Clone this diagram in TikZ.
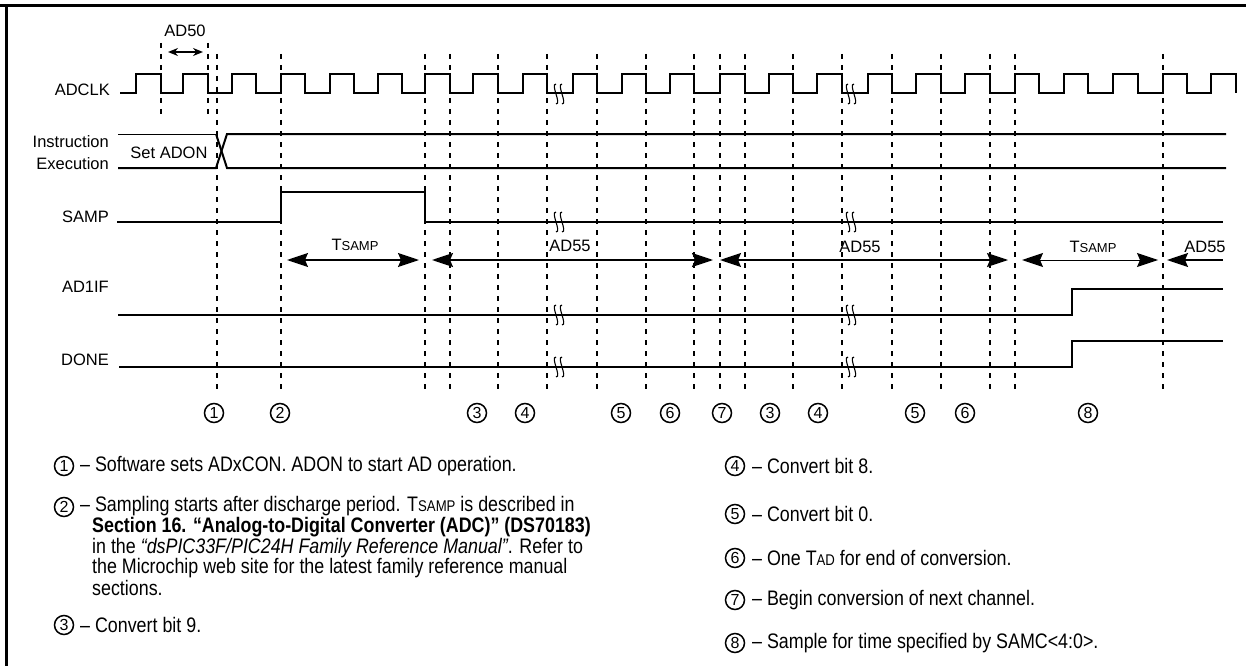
\documentclass[tikz,border=0pt]{standalone}
\usepackage{fontspec}
\setmainfont{Liberation Sans}
\newfontfamily\narrowfont[FakeStretch=0.85]{Liberation Sans}
\usetikzlibrary{arrows.meta}
\tikzset{
  wave/.style={line width=2pt, line join=miter},
  guide/.style={line width=1.5pt, dash pattern=on 5pt off 6pt},
  lbl/.style={font=\fontsize{16.5}{20}\selectfont, inner sep=0pt},
  sig/.style={lbl, anchor=east},
  bigarrow/.style={line width=1.6pt, {Stealth[length=21pt,width=14pt,inset=3pt]}-{Stealth[length=21pt,width=14pt,inset=3pt]}},
  cnum/.style={circle, draw, line width=1.5pt, minimum size=19pt, inner sep=0pt, font=\fontsize{16}{16}\selectfont},
  note/.style={anchor=west, inner sep=0pt, font=\narrowfont\fontsize{21}{23}\selectfont},
  brk/.pic={\draw[line width=1.1pt] (0,-10) .. controls (-6,-10) and (6,10) .. (0,10);
            \draw[line width=1.1pt] (6,-10) .. controls (0,-10) and (12,10) .. (6,10);}
}
\begin{document}
\begin{tikzpicture}[x=1pt,y=-1pt]
\useasboundingbox (0,0) rectangle (1246,666);
% frame
\draw[line width=3pt] (0,6) -- (1246,6);
\draw[line width=3pt] (6,6) -- (6,666);

% signal labels
\node[sig] (lclk) at (110,90) {ADCLK};
\node[sig] (linst) at (109,142) {Instruction};
\node[sig] (lexec) at (109,164) {Execution};
\node[sig] (lsamp) at (109,217) {SAMP};
\node[sig] (lif) at (109,287) {AD1IF};
\node[sig] (ldone) at (109,360) {DONE};

% guide lines
\foreach \x in {161,208} \draw[guide] (\x,43) -- (\x,117);
\foreach \x in {217,281,425,450,498,547,597,646,694,720,745,793,842,892,941,990,1015,1163}
  \draw[guide] (\x,54) -- (\x,392);

% clock
\draw[wave] (120,93) -| (136,74) -| (161,93) -| (183,74) -| (208,93) -| (232,74) -| (256,93)
  -| (281,74) -| (305,93) -| (330,74) -| (354,93) -| (378,74) -| (402,93) -| (425,74) -| (450,93)
  -| (473,74) -| (498,93) -| (523,74) -| (547,93) -| (573,74) -| (597,93) -| (622,74) -| (646,93)
  -| (670,74) -| (694,93) -| (720,74) -| (745,93) -| (769,74) -| (793,93) -| (817,74) -| (842,93)
  -| (868,74) -| (892,93) -| (916,74) -| (941,93) -| (965,74) -| (990,93) -| (1015,74) -| (1039,93)
  -| (1064,74) -| (1088,93) -| (1113,74) -| (1138,93) -| (1163,74) -| (1187,93) -| (1211,74) -| (1236,93);

% instruction execution
\draw[line width=1pt] (118,134) -- (216,134);
\draw[wave] (216,134) -- (227,168) -- (1226,168);
\draw[wave] (118,168) -- (216,168) -- (227,134) -- (1226,134);
\node[lbl] (setadon) at (169,153) {Set ADON};

% SAMP, AD1IF, DONE
\draw[wave] (117,222) -| (281,192) -| (425,222) -- (1223,222);
\draw[wave] (118,315) -| (1072,289) -- (1223,289);
\draw[wave] (119,367) -| (1072,341) -- (1223,341);

% breaks
\foreach \x in {556,848} {
  \pic at (\x,94) {brk};
  \pic at (\x,222) {brk};
  \pic at (\x,315) {brk};
  \pic at (\x,367) {brk};
}

% AD50
\node[lbl] (ad50) at (185,31) {AD50};
\coordinate (a50l) at (168,52);
\coordinate (a50r) at (203,52);
\draw[line width=1.6pt, {Stealth[length=10pt,width=8pt]}-{Stealth[length=10pt,width=8pt]}] (a50l) -- (a50r);

% timing arrows
\coordinate (t1l) at (287,260); \coordinate (t1r) at (419,260);
\coordinate (d1l) at (432,260); \coordinate (d1r) at (713,260);
\coordinate (d2l) at (720,260); \coordinate (d2r) at (1008,260);
\coordinate (t2l) at (1022,260); \coordinate (t2r) at (1158,260);
\coordinate (d3l) at (1167,260); \coordinate (d3r) at (1223,260);
\draw[bigarrow] (t1l) -- (t1r);
\draw[bigarrow] (d1l) -- (d1r);
\draw[bigarrow] (d2l) -- (d2r);
\draw[bigarrow, line width=1pt] (t2l) -- (t2r);
\draw[line width=1.6pt, {Stealth[length=21pt,width=14pt,inset=3pt]}-] (d3l) -- (d3r);
\node[lbl] (ts1) at (355,245) {T{\fontsize{13}{13}\selectfont SAMP}};
\node[lbl] (ad55a) at (570,246) {AD55};
\node[lbl] (ad55b) at (860,247) {AD55};
\node[lbl] (ts2) at (1093,247) {T{\fontsize{13}{13}\selectfont SAMP}};
\node[lbl] (ad55c) at (1205,247) {AD55};

% circled numbers on time axis
\node[cnum] (c1) at (214,413) {1};
\node[cnum] (c2) at (280,413) {2};
\node[cnum] (c3) at (477,413) {3};
\node[cnum] (c4) at (525,413) {4};
\node[cnum] (c5) at (621,413) {5};
\node[cnum] (c6) at (670,413) {6};
\node[cnum] (c7) at (722,413) {7};
\node[cnum] (c3b) at (770,413) {3};
\node[cnum] (c4b) at (818,413) {4};
\node[cnum] (c5b) at (915,413) {5};
\node[cnum] (c6b) at (965,413) {6};
\node[cnum] (c8) at (1088,413) {8};

% notes left
\node[cnum] (n1) at (64,466) {1};
\node[note] (t1) at (80,466) {– Software sets ADxCON. ADON to start AD operation.};
\node[cnum] (n2) at (64,507) {2};
\node[note] (t2a) at (80,506) {– Sampling starts after discharge period. T{\fontsize{15.5}{15.5}\selectfont SAMP} is described in};
\node[note] (t2b) at (92,527) {\bfseries Section 16. “Analog-to-Digital Converter (ADC)” (DS70183)};
\node[note] (t2c) at (92,548) {in the \itshape “dsPIC33F/PIC24H Family Reference Manual”\upshape. Refer to};
\node[note] (t2d) at (92,568) {the Microchip web site for the latest family reference manual};
\node[note] (t2e) at (92,588) {sections.};
\node[cnum] (n3) at (64,625) {3};
\node[note] (t3) at (80,625) {– Convert bit 9.};

% notes right
\node[cnum] (n4) at (735,466) {4};
\node[note] (t4) at (752,466) {– Convert bit 8.};
\node[cnum] (n5) at (735,514) {5};
\node[note] (t5) at (752,514) {– Convert bit 0.};
\node[cnum] (n6) at (735,558) {6};
\node[note] (t6) at (752,558) {– One T{\fontsize{15.5}{15.5}\selectfont AD} for end of conversion.};
\node[cnum] (n7) at (735,600) {7};
\node[note] (t7) at (752,600) {– Begin conversion of next channel.};
\node[cnum] (n8) at (735,643) {8};
\node[note] (t8) at (752,643) {– Sample for time specified by SAMC<4:0>.};
\end{tikzpicture}
\end{document}
